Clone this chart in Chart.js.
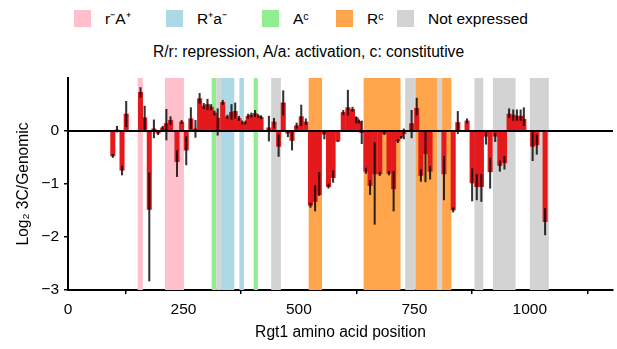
<!DOCTYPE html>
<html>
<head>
<meta charset="utf-8">
<script src="https://cdn.jsdelivr.net/npm/chart.js@4.4.1/dist/chart.umd.min.js"></script>
<style>
  html, body { margin: 0; padding: 0; background: #fff; }
  body { width: 617px; height: 349px; position: relative; overflow: hidden;
         font-family: "Liberation Sans", Arial, sans-serif; color: #000; }
  #legend { position: absolute; top: 10px; left: 0; width: 617px; height: 18px;
            font-size: 15.5px; line-height: 17px; }
  #legend .item { position: absolute; top: 0; display: flex; align-items: center; white-space: nowrap; }
  #legend .box { width: 17px; height: 17px; margin-right: 14px; }
  #subtitle { position: absolute; top: 43px; left: 0; width: 617px; text-align: center;
              font-size: 15.6px; line-height: 18px; }
  canvas { position: absolute; left: 0; top: 0; }
</style>
</head>
<body>
<div id="legend"></div>
<div id="subtitle">R/r: repression, A/a: activation, c: constitutive</div>
<canvas id="rgtChart" width="617" height="349"></canvas>
<script>
// Rgt1 3C scan: log2 3C/Genomic per construct position

// bar centres (amino acid position), mean value, error bar low / high
const positions = [97, 106, 117, 126, 157, 166, 176, 186, 195, 205, 213, 222, 236, 246, 256, 266, 276,
  285, 294, 302, 310, 317, 324, 335, 345, 354, 362, 370, 377, 384, 390, 397, 405, 412, 418,
  435, 446, 456, 466, 476, 485, 495, 505, 515, 525, 535, 544, 555, 564, 574, 584, 596, 606,
  616, 624, 630, 636, 645, 654, 664, 675, 685, 695, 705, 714, 721, 727, 744, 755, 764, 774,
  784, 814, 834, 844, 864, 875, 885, 895, 905, 914, 925, 935, 945, 955, 964, 972, 980, 987,
  1006, 1015, 1033];
const values = [-0.47, 0.02, -0.74, 0.32, 0.73, 0.25, -1.48, 0.04, -0.04, 0.06, 0.14, 0.2, -0.58, 0.17, -0.36, 0.23, 0.04,
  0.61, 0.47, 0.5, 0.45, 0.34, 0.24, 0.54, 0.27, 0.35, 0.37, 0.24, 0.16, 0.16, 0.28, 0.3, 0.33, 0.28, 0.26,
  0.06, 0.17, -0.29, 0.53, -0.04, -0.18, 0.1, 0.27, 0.17, -1.4, -1.33, -1.2, -0.06, -1.05, -0.88, -0.19, 0.35, 0.44,
  0.41, 0.25, 0.18, -0.03, -0.76, -1.03, -0.81, -0.81, -0.05, -0.8, -1.09, -0.19, -0.12, -0.05, 0.14, 0.43, -0.84, -0.43,
  -0.76, -0.81, -1.49, 0.16, 0.19, -0.98, -1.05, -1.05, -0.1, -0.77, -0.1, -0.65, -0.6, 0.32, 0.3, 0.28, 0.28, 0.22,
  -0.29, -0.26, -1.71];
const errLow = [-0.5, -0.02, -0.83, 0.08, 0.64, 0.03, -2.83, -0.13, -0.07, 0.03, -0.17, 0.12, -0.86, 0.14, -0.64, 0.04, -0.12,
  0.52, 0.42, 0.4, 0.4, 0.3, -0.08, 0.5, 0.24, 0.22, 0.24, 0.2, 0.13, 0.13, 0.24, 0.26, 0.27, 0.25, 0.23,
  -0.19, 0.06, -0.48, 0.3, -0.11, -0.36, 0.05, 0.1, 0.12, -1.44, -1.51, -1.22, -0.15, -1.08, -0.97, -0.2, 0.31, 0.3,
  0.37, 0.15, 0.15, -0.24, -0.8, -1.2, -1.76, -0.84, -0.07, -0.83, -1.51, -0.22, -0.14, -0.15, -0.13, 0.3, -0.95, -0.96,
  -0.91, -1.3, -1.53, -0.05, 0.15, -1.32, -1.3, -1.33, -0.25, -1.08, -0.2, -0.76, -0.72, 0.25, 0.2, 0.2, 0.2, 0.1,
  -0.56, -0.44, -1.96];
const errHigh = [-0.44, 0.09, -0.66, 0.56, 0.82, 0.47, -0.79, 0.21, -0.01, 0.09, 0.41, 0.27, -0.37, 0.2, -0.1, 0.44, 0.2,
  0.71, 0.52, 0.6, 0.5, 0.38, 0.42, 0.58, 0.3, 0.5, 0.53, 0.28, 0.19, 0.19, 0.32, 0.34, 0.39, 0.31, 0.29,
  0.28, 0.24, -0.07, 0.76, 0.0, -0.03, 0.15, 0.49, 0.23, -1.36, -1.03, -0.78, -0.02, -1.0, -0.75, -0.18, 0.39, 0.77,
  0.45, 0.27, 0.21, 0.19, -0.7, -0.93, -0.22, -0.78, -0.03, -0.76, -0.76, -0.16, -0.1, 0.04, 0.39, 0.62, -0.73, -0.03,
  -0.67, -0.48, -1.45, 0.37, 0.23, -0.71, -0.82, -0.82, -0.03, -0.51, -0.04, -0.56, -0.48, 0.42, 0.4, 0.4, 0.4, 0.44,
  -0.03, -0.07, -1.46];

// shaded regions of the protein
const regionStart = [151, 210, 311, 321, 331, 371, 402, 440, 521, 640, 730, 752, 799, 810, 880, 920, 1000];
const regionEnd   = [162, 251, 321, 331, 360, 381, 411, 461, 550, 720, 751, 799, 810, 830, 899, 969, 1041];
const regionType  = ['rA', 'rA', 'Ac', 'ne', 'Ra', 'Ra', 'Ac', 'ne', 'Rc', 'Rc', 'ne', 'Rc', 'ne', 'Rc', 'ne', 'ne', 'ne'];

const legendKeys   = ['rA', 'Ra', 'Ac', 'Rc', 'ne'];
const legendLabels = ['r\u207BA\u207A', 'R\u207Aa\u207B', 'A\u1D9C', 'R\u1D9C', 'Not expressed'];
const legendColors = ['#ffc0cb', '#add8e6', '#90ee90', '#ffa64d', '#d3d3d3'];

const xTicks = [0, 250, 500, 750, 1000];
const yTicks = [-3, -2, -1, 0];

// legend key left edges (px)
const legendLeft = [74, 166, 262, 336, 397];

// html legend
const legendEl = document.getElementById('legend');
legendKeys.forEach((k, i) => {
  const item = document.createElement('div');
  item.className = 'item';
  item.style.left = legendLeft[i] + 'px';
  const box = document.createElement('span');
  box.className = 'box';
  box.style.background = legendColors[i];
  const txt = document.createElement('span');
  txt.textContent = legendLabels[i];
  item.appendChild(box);
  item.appendChild(txt);
  legendEl.appendChild(item);
});

const barData = positions.map((p, i) => ({ x: p, y: values[i] }));
const errData = positions.map((p, i) => ({ x: p, y: [errLow[i], errHigh[i]] }));

const regionsPlugin = {
  id: 'regions',
  beforeDatasetsDraw(chart) {
    const { ctx, chartArea, scales } = chart;
    ctx.save();
    regionStart.forEach((s, i) => {
      const x0 = scales.x.getPixelForValue(s);
      const x1 = scales.x.getPixelForValue(regionEnd[i]);
      ctx.fillStyle = legendColors[legendKeys.indexOf(regionType[i])];
      ctx.fillRect(x0, chartArea.top, x1 - x0, chartArea.bottom - chartArea.top);
    });
    ctx.restore();
  }
};

const zeroLinePlugin = {
  id: 'zeroLine',
  afterDatasetsDraw(chart) {
    const { ctx, chartArea, scales } = chart;
    const y = scales.y.getPixelForValue(0);
    ctx.save();
    ctx.strokeStyle = '#000';
    ctx.lineWidth = 2;
    ctx.beginPath();
    ctx.moveTo(chartArea.left, y);
    ctx.lineTo(chartArea.right, y);
    ctx.stroke();
    ctx.restore();
  }
};

const fontFamily = '"Liberation Sans", Arial, sans-serif';

new Chart(document.getElementById('rgtChart'), {
  type: 'bar',
  data: {
    datasets: [
      {
        label: 'error',
        data: errData,
        backgroundColor: 'rgba(0,0,0,0.8)',
        barThickness: 1.4,
        grouped: false,
        order: 0
      },
      {
        label: 'Log2 3C/Genomic',
        data: barData,
        backgroundColor: '#e3191c',
        barThickness: 4.4,
        grouped: false,
        order: 1
      }
    ]
  },
  options: {
    responsive: false,
    animation: false,
    layout: { padding: { top: 78, right: 4, left: 0, bottom: 0 } },
    plugins: {
      legend: { display: false },
      tooltip: { enabled: false }
    },
    scales: {
      x: {
        type: 'linear',
        min: 0,
        max: 1180,
        offset: false,
        afterFit: s => { s.height = 59; },
        afterBuildTicks: s => { s.ticks = xTicks.map(v => ({ value: v })); },
        grid: { display: true, drawOnChartArea: false, drawTicks: true, tickLength: 4, color: '#000', lineWidth: 1.5 },
        border: { display: true, color: '#000', width: 2 },
        ticks: { color: '#000', padding: 6, maxRotation: 0, font: { family: fontFamily, size: 15.5 },
                 callback: v => String(v) },
        title: { display: true, text: 'Rgt1 amino acid position', color: '#000',
                 padding: { top: 4, bottom: 7 }, font: { family: fontFamily, size: 15.6 } }
      },
      y: {
        min: -3,
        max: 1,
        afterFit: s => { s.width = 68; },
        afterBuildTicks: s => { s.ticks = yTicks.map(v => ({ value: v })); },
        grid: { display: true, drawOnChartArea: false, drawTicks: true, tickLength: 4, color: '#000', lineWidth: 1.5 },
        border: { display: true, color: '#000', width: 2 },
        ticks: { color: '#000', padding: 5, font: { family: fontFamily, size: 15.5 },
                 callback: v => (v < 0 ? '\u2212' + Math.abs(v) : String(v)) },
        title: { display: true, text: 'Log\u2082 3C/Genomic', color: '#000',
                 padding: { top: 14, bottom: 0 }, font: { family: fontFamily, size: 15.6 } }
      }
    }
  },
  plugins: [regionsPlugin, zeroLinePlugin]
});
</script>
</body>
</html>
